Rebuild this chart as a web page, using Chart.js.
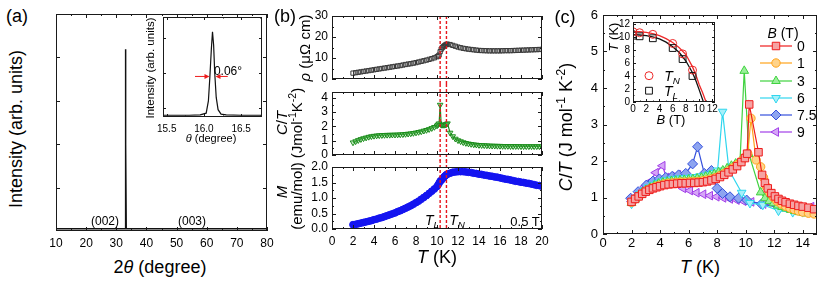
<!DOCTYPE html>
<html>
<head>
<meta charset="utf-8">
<script src="https://cdn.jsdelivr.net/npm/chart.js@4.4.1/dist/chart.umd.min.js"></script>
<style>
  body { margin: 0; background: #fff; }
  #fig { position: relative; width: 830px; height: 283px; overflow: hidden; background: #fff;
         font-family: "Liberation Sans", Arial, sans-serif; color: #000; }
  #fig canvas { position: absolute; z-index: 1; }
  .lab { position: absolute; z-index: 2; white-space: nowrap; line-height: 1; transform: translate(-50%, -50%); }
  .rot { transform: translate(-50%, -50%) rotate(-90deg); }
  .lab sub { font-size: 70%; vertical-align: -0.3em; line-height: 0; }
  .lab sup { font-size: 70%; vertical-align: 0.55em; line-height: 0; }
</style>
</head>
<body>
<div id="fig">
  <!-- panel a -->
  <div class="lab" style="left:17px;top:16px;font-size:18px">(a)</div>
  <div class="lab rot" style="left:16px;top:129px;font-size:18px">Intensity (arb. units)</div>
  <div class="lab" style="left:160px;top:267px;font-size:18px">2<i>θ</i> (degree)</div>
  <div class="lab" style="left:105px;top:221px;font-size:12px">(002)</div>
  <div class="lab" style="left:192px;top:221px;font-size:12px">(003)</div>
  <div class="lab rot" style="left:151px;top:68px;font-size:11.5px">Intensity (arb. units)</div>
  <div class="lab" style="left:211px;top:138px;font-size:11px"><i>θ</i> (degree)</div>
  <div class="lab" style="left:228px;top:71px;font-size:12px">0.06°</div>
  <!-- panel b -->
  <div class="lab" style="left:285px;top:16px;font-size:18px">(b)</div>
  <div class="lab rot" style="left:304px;top:48px;font-size:15px"><i>ρ</i> (μΩ cm)</div>
  <div class="lab rot" style="left:281px;top:123px;font-size:15px"><i>C</i>/<i>T</i></div>
  <div class="lab rot" style="left:296px;top:123px;font-size:15px">(Jmol<sup>-1</sup>K<sup>-2</sup>)</div>
  <div class="lab rot" style="left:281px;top:192px;font-size:15px"><i>M</i></div>
  <div class="lab rot" style="left:296px;top:196px;font-size:15px">(emu/mol)</div>
  <div class="lab" style="left:437px;top:257px;font-size:18px"><i>T</i> (K)</div>
  <div class="lab" style="left:432px;top:220px;font-size:14px"><i>T</i><sub><i>L</i></sub></div>
  <div class="lab" style="left:457px;top:220px;font-size:14px"><i>T</i><sub><i>N</i></sub></div>
  <div class="lab" style="left:525px;top:221px;font-size:13px">0.5 T</div>
  <!-- panel c -->
  <div class="lab" style="left:565px;top:17px;font-size:18px">(c)</div>
  <div class="lab rot" style="left:566px;top:127px;font-size:18px"><i>C</i>/<i>T</i> (J mol<sup>-1</sup> K<sup>-2</sup>)</div>
  <div class="lab" style="left:700px;top:267px;font-size:18px"><i>T</i> (K)</div>
  <div class="lab" style="left:783px;top:33px;font-size:14px"><i>B</i> (T)</div>
  <div class="lab rot" style="left:613px;top:37px;font-size:13px"><i>T</i> (K)</div>
  <div class="lab" style="left:671px;top:119px;font-size:13px"><i>B</i> (T)</div>
  <div class="lab" style="left:672px;top:76px;font-size:14px"><i>T</i><sub><i>N</i></sub></div>
  <div class="lab" style="left:671px;top:91px;font-size:14px"><i>T</i><sub><i>L</i></sub></div>
</div>
<script>
// ---- (a) XRD pattern + rocking curve inset ----
const xrdAngle = [10, 32.9, 33.0, 33.1, 33.2, 33.3, 80];
const xrdInt = [0.05, 0.05, 2.0, 4.19, 2.0, 0.05, 0.05];
const rockTheta = [15.45, 15.8, 15.95, 16.03, 16.06, 16.08, 16.10, 16.115, 16.13, 16.145, 16.165, 16.19, 16.23, 16.3, 16.5, 16.78];
const rockInt = [0.79, 0.79, 0.8, 0.85, 1.2, 1.9, 2.7, 3.18, 2.8, 2.0, 1.3, 0.95, 0.82, 0.8, 0.79, 0.79];
const arrowFrom = [15.88, 16.32];
const arrowTo = [16.075, 16.155];
const arrowY = 1.9;

// ---- (b) rho, C/T, M vs T at 0.5 T ----
const bTemp = [2, 2.25, 2.5, 2.75, 3, 3.25, 3.5, 3.75, 4, 4.25, 4.5, 4.75, 5, 5.25, 5.5, 5.75,
  6, 6.25, 6.5, 6.75, 7, 7.25, 7.5, 7.75, 8, 8.25, 8.5, 8.75, 9, 9.25, 9.5, 9.75, 10,
  10.1, 10.2, 10.3, 10.4, 10.5, 10.6, 10.7, 10.8, 10.9, 11.0,
  11.25, 11.5, 11.75, 12, 12.25, 12.5, 12.75, 13, 13.25, 13.5, 13.75, 14, 14.25, 14.5, 14.75, 15,
  15.25, 15.5, 15.75, 16, 16.25, 16.5, 16.75, 17, 17.25, 17.5, 17.75, 18, 18.25, 18.5, 18.75, 19,
  19.25, 19.5, 19.75, 20];
const bRho = [2.8, 3.0, 3.2, 3.4, 3.6, 3.8, 4.0, 4.2, 4.4, 4.6, 4.8, 5.0, 5.2, 5.4, 5.6, 5.8,
  6.0, 6.2, 6.4, 6.65, 6.9, 7.1, 7.3, 7.55, 7.8, 8.1, 8.4, 8.7, 9.0, 9.35, 9.7, 10.1, 10.6,
  10.9, 11.4, 13.0, 14.2, 14.9, 15.4, 15.8, 16.2, 16.5, 16.6,
  16.4, 16.0, 15.6, 15.2, 14.9, 14.6, 14.4, 14.2, 14.05, 13.9, 13.75, 13.6, 13.55, 13.5, 13.45, 13.4,
  13.4, 13.4, 13.4, 13.4, 13.45, 13.5, 13.5, 13.5, 13.55, 13.6, 13.65, 13.7, 13.75, 13.8, 13.85, 13.9,
  13.95, 14.0, 14.05, 14.1];
const bCT = [0.87, 0.95, 1.03, 1.1, 1.16, 1.21, 1.26, 1.3, 1.33, 1.35, 1.37, 1.38, 1.39, 1.4, 1.4, 1.41,
  1.41, 1.42, 1.43, 1.44, 1.46, 1.48, 1.5, 1.53, 1.56, 1.6, 1.64, 1.69, 1.74, 1.8, 1.87, 1.95, 2.05,
  2.12, 2.2, 3.5, 2.1, 2.1, 2.1, 2.1, 2.12, 2.15, 2.2,
  1.55, 1.3, 1.13, 1.02, 0.95, 0.88, 0.83, 0.79, 0.76, 0.73, 0.71, 0.69, 0.68, 0.67, 0.66, 0.65,
  0.64, 0.64, 0.63, 0.63, 0.62, 0.62, 0.62, 0.61, 0.61, 0.61, 0.61, 0.6, 0.6, 0.6, 0.6, 0.6,
  0.6, 0.6, 0.6, 0.6];
const bMag = [0.14, 0.15, 0.17, 0.19, 0.21, 0.23, 0.25, 0.27, 0.3, 0.32, 0.35, 0.37, 0.4, 0.43, 0.46, 0.49,
  0.52, 0.56, 0.59, 0.63, 0.67, 0.71, 0.75, 0.8, 0.85, 0.9, 0.96, 1.02, 1.08, 1.15, 1.22, 1.29, 1.37,
  1.42, 1.48, 1.54, 1.57, 1.61, 1.65, 1.69, 1.72, 1.75, 1.77,
  1.8, 1.83, 1.84, 1.85, 1.85, 1.85, 1.84, 1.83, 1.82, 1.8, 1.79, 1.77, 1.76, 1.74, 1.73, 1.71,
  1.7, 1.68, 1.67, 1.65, 1.63, 1.61, 1.6, 1.58, 1.56, 1.54, 1.53, 1.51, 1.5, 1.48, 1.47, 1.45,
  1.43, 1.41, 1.4, 1.38];
const bTrans = [10.3, 10.9];

// ---- (c) C/T vs T in fields ----
const fieldLabels = ['0', '1', '3', '6', '7.5', '9'];
const c0T = [2.0, 2.25, 2.5, 2.75, 3.0, 3.25, 3.5, 3.75, 4.0, 4.3, 4.6, 4.9, 5.2, 5.5, 5.8, 6.1, 6.4, 6.7, 7.0,
  7.3, 7.6, 7.9, 8.2, 8.5, 8.8, 9.1, 9.4, 9.7, 9.95, 10.1, 10.25, 10.9, 11.15, 11.35, 11.55, 11.8, 12.05, 12.3, 12.55,
  12.8, 13.1, 13.4, 13.7, 14.0, 14.4, 14.8];
const c0V = [0.88, 0.96, 1.03, 1.1, 1.16, 1.21, 1.25, 1.28, 1.31, 1.34, 1.36, 1.37, 1.38, 1.39, 1.39, 1.4, 1.4, 1.41, 1.42,
  1.44, 1.47, 1.51, 1.56, 1.62, 1.69, 1.77, 1.86, 1.97, 2.08, 2.2, 3.55, 2.24, 1.62, 1.4, 1.25, 1.12, 1.03, 0.96, 0.91,
  0.87, 0.83, 0.8, 0.77, 0.75, 0.72, 0.68];
const c1T = [2.0, 2.25, 2.5, 2.75, 3.0, 3.25, 3.5, 3.75, 4.0, 4.3, 4.6, 4.9, 5.2, 5.5, 5.8, 6.1, 6.4, 6.7, 7.0,
  7.3, 7.6, 7.9, 8.2, 8.5, 8.8, 9.1, 9.4, 9.7, 9.95, 10.15, 10.37, 10.73, 11.05, 11.25, 11.45, 11.7, 11.95, 12.2, 12.5,
  12.8, 13.1, 13.4, 13.7, 14.0, 14.4, 14.8];
const c1V = [0.87, 0.96, 1.04, 1.11, 1.18, 1.23, 1.27, 1.31, 1.34, 1.37, 1.39, 1.4, 1.41, 1.42, 1.42, 1.43, 1.43, 1.44, 1.46,
  1.48, 1.51, 1.55, 1.6, 1.66, 1.73, 1.81, 1.9, 2.0, 2.1, 2.2, 3.17, 2.03, 1.84, 1.55, 1.3, 1.12, 1.0, 0.9, 0.82,
  0.76, 0.71, 0.67, 0.63, 0.6, 0.57, 0.55];
const c3T = [2.0, 2.25, 2.5, 2.75, 3.0, 3.3, 3.6, 3.9, 4.2, 4.5, 4.8, 5.1, 5.4, 5.7, 6.0, 6.3, 6.6, 6.9, 7.2, 7.5,
  7.8, 8.1, 8.4, 8.7, 9.0, 9.3, 9.6, 9.9, 10.23, 11.05, 11.35, 11.65, 11.95, 12.25, 12.55, 12.85, 13.15, 13.45, 13.75,
  14.05, 14.4, 14.8];
const c3V = [0.85, 0.95, 1.05, 1.13, 1.2, 1.27, 1.33, 1.38, 1.41, 1.43, 1.45, 1.46, 1.47, 1.48, 1.49, 1.5, 1.52, 1.54, 1.57, 1.6,
  1.64, 1.69, 1.74, 1.8, 1.87, 1.93, 1.98, 4.47, 2.19, 1.14, 0.98, 0.9, 0.84, 0.78, 0.74, 0.7, 0.66, 0.63, 0.6,
  0.58, 0.56, 0.55];
const c6T = [2.0, 2.3, 2.6, 2.9, 3.2, 3.5, 3.8, 4.1, 4.4, 4.7, 5.0, 5.3, 5.6, 5.9, 6.2, 6.5, 6.8, 7.1, 7.4, 7.7,
  8.03, 8.38, 8.83, 9.72, 10.3, 11.2, 12.3, 13.3, 14.0, 14.6];
const c6V = [0.83, 0.97, 1.1, 1.2, 1.28, 1.35, 1.4, 1.44, 1.47, 1.49, 1.51, 1.52, 1.53, 1.54, 1.55, 1.56, 1.58, 1.6, 1.63, 1.67,
  1.74, 3.35, 1.75, 1.13, 0.85, 0.8, 0.64, 0.6, 0.6, 0.63];
const c75T = [1.94, 2.46, 3.04, 3.5, 3.95, 4.4, 4.85, 5.3, 5.8, 6.28, 6.63, 7.1, 7.6, 8.0, 8.38, 8.9, 9.5, 10.07,
  11.1, 12.4, 13.6, 14.6];
const c75V = [0.98, 1.16, 1.34, 1.45, 1.51, 1.55, 1.58, 1.62, 1.66, 1.92, 2.39, 1.66, 1.74, 1.25, 1.11, 1.02, 0.98, 0.93,
  0.82, 0.73, 0.7, 0.66];
const c9T = [2.0, 2.46, 2.93, 3.28, 3.7, 4.17, 4.45, 4.8, 5.27, 5.62, 6.1, 6.56, 7.03, 7.5, 7.96, 8.43, 8.9, 9.37, 9.84,
  10.4, 11.24, 12.2, 13.35, 14.6];
const c9V = [0.89, 1.07, 1.3, 1.43, 1.68, 1.87, 1.55, 1.58, 1.62, 1.25, 1.19, 1.13, 1.09, 1.05, 1.02, 0.99, 0.96, 0.93, 0.9,
  0.88, 0.82, 0.77, 0.73, 0.75];

// ---- (c) inset: phase diagram ----
const insB = [0, 1, 3, 6, 7.5, 9];
const insTN = [10.8, 10.65, 10.4, 9.0, 7.4, 4.9];
const insTL = [10.2, 10.1, 9.8, 8.3, 6.6, 4.0];
const fitNB = [0, 1, 2, 3, 4, 5, 6, 7, 8, 9, 9.5, 10, 10.5, 11.05];
const fitNT = [10.85, 10.8, 10.7, 10.5, 10.2, 9.75, 9.15, 8.35, 7.3, 5.4, 4.2, 2.7, 1.5, 0];
const fitLB = [0, 1, 2, 3, 4, 5, 6, 7, 8, 9, 9.5, 10, 10.65];
const fitLT = [10.35, 10.3, 10.2, 10.0, 9.7, 9.2, 8.5, 7.6, 6.3, 4.5, 3.3, 1.9, 0];

// tick values
const aTicks = [10, 20, 30, 40, 50, 60, 70, 80];
const aMinor = [15, 25, 35, 45, 55, 65, 75];
const aYTicks = [1, 2, 3, 4];
const rockTicks = [15.5, 16.0, 16.5];
const rockMinor = [15.75, 16.25, 16.75];
const rockYTicks = [1, 2, 3];
const bTTicks = [0, 2, 4, 6, 8, 10, 12, 14, 16, 18, 20];
const bTMinor = [1, 3, 5, 7, 9, 11, 13, 15, 17, 19];
const rhoTicks = [0, 10, 20, 30];
const rhoMinor = [5, 15, 25];
const ctTicks = [0, 1, 2, 3, 4];
const ctMinor = [0.5, 1.5, 2.5, 3.5];
const magTicks = [0, 0.5, 1.0, 1.5, 2.0];
const magMinor = [0.25, 0.75, 1.25, 1.75];
const cTTicks = [0, 2, 4, 6, 8, 10, 12, 14];
const cTMinor = [1, 3, 5, 7, 9, 11, 13];
const cYTicks = [0, 1, 2, 3, 4, 5, 6];
const cYMinor = [0.5, 1.5, 2.5, 3.5, 4.5, 5.5];
const insTicks = [0, 2, 4, 6, 8, 10, 12];
const insMinor = [1, 3, 5, 7, 9, 11];

Chart.defaults.font.family = '"Liberation Sans", Arial, sans-serif';
Chart.defaults.color = '#000';

const fig = document.getElementById('fig');
const pts = (xs, ys) => xs.map((x, i) => ({ x: x, y: ys[i] }));
const fix1 = v => Number(v).toFixed(1);

function drawMarker(ctx, ds, px, py) {
  ctx.save();
  ctx.fillStyle = ds.pointBackgroundColor;
  ctx.strokeStyle = ds.pointBorderColor;
  ctx.lineWidth = ds.pointBorderWidth || 1;
  Chart.helpers.drawPoint(ctx, { pointStyle: ds.pointStyle, rotation: ds.pointRotation || 0,
    radius: ds.pointRadius, borderWidth: ctx.lineWidth }, px, py);
  ctx.restore();
}

const frame = {
  id: 'frame',
  beforeDraw(chart, args, o) {
    if (!o.bg) return;
    const a = chart.chartArea, ctx = chart.ctx;
    ctx.save();
    ctx.fillStyle = '#fff';
    ctx.fillRect(a.left, a.top, a.right - a.left, a.bottom - a.top);
    ctx.restore();
  },
  afterDatasetsDraw(chart, args, o) {
    const ctx = chart.ctx, a = chart.chartArea;
    const x = chart.scales.x, y = chart.scales.y;
    ctx.save();
    if (o.vlines) {
      ctx.strokeStyle = '#e8141c';
      ctx.lineWidth = 1.4;
      ctx.setLineDash([3, 2]);
      o.vlines.forEach(v => {
        const px = x.getPixelForValue(v);
        ctx.beginPath();
        ctx.moveTo(px, o.vTop ? a.top : 0);
        ctx.lineTo(px, o.vBottom ? a.bottom : chart.height);
        ctx.stroke();
      });
      ctx.setLineDash([]);
    }
    if (o.arrows) {
      ctx.strokeStyle = '#ee1c1c';
      ctx.fillStyle = '#ee1c1c';
      ctx.lineWidth = 1;
      const py = y.getPixelForValue(arrowY);
      arrowFrom.forEach((f, i) => {
        const x0 = x.getPixelForValue(f), x1 = x.getPixelForValue(arrowTo[i]);
        const d = x1 > x0 ? 1 : -1;
        ctx.beginPath();
        ctx.moveTo(x0, py); ctx.lineTo(x1 - d * 4, py);
        ctx.stroke();
        ctx.beginPath();
        ctx.moveTo(x1, py); ctx.lineTo(x1 - d * 5, py - 2.5); ctx.lineTo(x1 - d * 5, py + 2.5);
        ctx.closePath();
        ctx.fill();
      });
    }
    // box and inward ticks on all four sides
    ctx.strokeStyle = '#1a1a1a';
    ctx.lineWidth = 1;
    ctx.strokeRect(a.left + 0.5, a.top + 0.5, a.right - a.left - 1, a.bottom - a.top - 1);
    const L = o.tick || 4;
    ctx.beginPath();
    const xt = (vals, len) => (vals || []).forEach(v => {
      const p = Math.round(x.getPixelForValue(v)) + 0.5;
      ctx.moveTo(p, a.bottom); ctx.lineTo(p, a.bottom - len);
      ctx.moveTo(p, a.top); ctx.lineTo(p, a.top + len);
    });
    const yt = (vals, len) => (vals || []).forEach(v => {
      const p = Math.round(y.getPixelForValue(v)) + 0.5;
      ctx.moveTo(a.left, p); ctx.lineTo(a.left + len, p);
      ctx.moveTo(a.right, p); ctx.lineTo(a.right - len, p);
    });
    xt(o.xMaj, L); xt(o.xMin, L / 2); yt(o.yMaj, L); yt(o.yMin, L / 2);
    ctx.stroke();
    // line+marker legend (panel c)
    if (o.legend) {
      const ds = chart.data.datasets;
      ctx.font = '14px "Liberation Sans", Arial, sans-serif';
      ctx.textBaseline = 'middle';
      o.legendY.forEach((ly, i) => {
        const d = ds[i], py = ly - o.oy;
        ctx.strokeStyle = d.borderColor;
        ctx.lineWidth = 1.2;
        ctx.beginPath();
        ctx.moveTo(o.legendX[0] - o.ox, py); ctx.lineTo(o.legendX[1] - o.ox, py);
        ctx.stroke();
        drawMarker(ctx, d, (o.legendX[0] + o.legendX[1]) / 2 - o.ox, py);
        ctx.fillStyle = '#000';
        ctx.fillText(d.label, o.legendX[2] - o.ox, py + 1);
      });
    }
    if (o.keys) {
      const ds = chart.data.datasets;
      o.keyDs.forEach((k, i) => drawMarker(ctx, ds[k], o.keyX - o.ox, o.keyY[i] - o.oy));
    }
    ctx.restore();
  }
};

function axis(a, size) {
  return {
    type: 'linear', min: a.min, max: a.max,
    grid: { display: false, drawTicks: false },
    border: { display: false },
    ticks: { display: !!a.labels, padding: a.pad || 0, font: { size: a.size || 12 }, color: '#000',
             autoSkip: false, maxRotation: 0, minRotation: 0,
             callback: a.fmt || (v => String(v)) },
    afterBuildTicks: s => { s.ticks = a.major.map(v => ({ value: v })); },
    afterFit: s => {
      if (s.isHorizontal()) s.height = size; else s.width = size;
      s.paddingLeft = s.paddingRight = s.paddingTop = s.paddingBottom = 0;
    }
  };
}

function plot(box, m, datasets, xs, ys, extra) {
  const cv = document.createElement('canvas');
  cv.width = box.w + m.l + m.r;
  cv.height = box.h + m.t + m.b;
  cv.style.left = (box.x - m.l) + 'px';
  cv.style.top = (box.y - m.t) + 'px';
  fig.appendChild(cv);
  const po = Object.assign({ xMaj: xs.major, xMin: xs.minor, yMaj: ys.major, yMin: ys.minor,
    ox: box.x - m.l, oy: box.y - m.t }, extra || {});
  return new Chart(cv, {
    type: 'scatter',
    data: { datasets },
    options: {
      responsive: false, animation: false, devicePixelRatio: 1,
      layout: { padding: { left: 0, top: m.t, right: m.r, bottom: 0 } },
      scales: { x: axis(xs, m.b), y: axis(ys, m.l) },
      plugins: { legend: { display: false }, tooltip: { enabled: false }, frame: po }
    },
    plugins: [frame]
  });
}

function lineSet(xs, ys, color, width) {
  return { data: pts(xs, ys), showLine: true, borderColor: color, borderWidth: width, pointRadius: 0, fill: false };
}
function markSet(label, xs, ys, style, rot, r, border, bg, line) {
  return { label, data: pts(xs, ys), showLine: !!line, borderColor: border, borderWidth: 1.2,
    pointStyle: style, pointRotation: rot, pointRadius: r, pointBorderColor: border,
    pointBackgroundColor: bg, pointBorderWidth: 1, pointHoverRadius: r };
}

// (a) main
plot({ x: 56, y: 14, w: 211, h: 217 }, { l: 10, r: 12, t: 6, b: 20 },
  [lineSet(xrdAngle, xrdInt, '#111', 1.5)],
  { min: 10, max: 80, major: aTicks, minor: aMinor, labels: true, pad: 5, size: 12 },
  { min: 0, max: 5, major: aYTicks, minor: [] }, { tick: 4 });
// (a) inset
plot({ x: 163, y: 17, w: 99, h: 100 }, { l: 10, r: 4, t: 2, b: 20 },
  [lineSet(rockTheta, rockInt, '#111', 1.2)],
  { min: 15.45, max: 16.78, major: rockTicks, minor: rockMinor, labels: true, pad: 6, size: 10, fmt: fix1 },
  { min: 0.74, max: 3.6, major: rockYTicks, minor: [] }, { tick: 3, bg: true, arrows: true });

// (b) three stacked panels sharing T axis
const bX = { min: 0, max: 20, major: bTTicks, minor: bTMinor };
plot({ x: 332, y: 16, w: 210, h: 63 }, { l: 30, r: 10, t: 12, b: 6 },
  [markSet('rho', bTemp, bRho, 'rect', 0, 3.0, '#3a3a3a', 'rgba(0,0,0,0)')],
  bX, { min: 0, max: 30, major: rhoTicks, minor: rhoMinor, labels: true, pad: 4, size: 12 },
  { tick: 4, vlines: bTrans, vTop: true });
plot({ x: 332, y: 92, w: 210, h: 63 }, { l: 30, r: 10, t: 8, b: 6 },
  [markSet('CT', bTemp, bCT, 'triangle', 180, 3.2, '#1a8c1a', 'rgba(120,210,120,0.35)', true)],
  bX, { min: 0, max: 4.4, major: ctTicks, minor: ctMinor, labels: true, pad: 4, size: 12 },
  { tick: 4, vlines: bTrans });
plot({ x: 332, y: 167, w: 210, h: 62 }, { l: 30, r: 10, t: 7, b: 22 },
  [markSet('M', bTemp, bMag, 'circle', 0, 3.4, '#1414f0', '#1414f0')],
  Object.assign({ labels: true, pad: 5, size: 12 }, bX),
  { min: 0, max: 2.0, major: magTicks, minor: magMinor, labels: true, pad: 4, size: 12, fmt: fix1 },
  { tick: 4, vlines: bTrans, vBottom: true });

// (c) main
plot({ x: 603, y: 15, w: 214, h: 219 }, { l: 40, r: 10, t: 8, b: 22 },
  [
    markSet(fieldLabels[0], c0T, c0V, 'rect', 0, 5.3, '#ee1c1c', '#f5a3a3', true),
    markSet(fieldLabels[1], c1T, c1V, 'circle', 0, 4.2, '#ffa31a', '#ffd38a', true),
    markSet(fieldLabels[2], c3T, c3V, 'triangle', 0, 5.0, '#3fd23f', '#9bef9b', true),
    markSet(fieldLabels[3], c6T, c6V, 'triangle', 180, 5.0, '#2fd6ee', '#a6f0fa', true),
    markSet(fieldLabels[4], c75T, c75V, 'rectRot', 0, 5.0, '#3550dc', '#8da4f0', true),
    markSet(fieldLabels[5], c9T, c9V, 'triangle', -90, 5.0, '#a13ee8', '#d6a6f7', true)
  ],
  { min: 0, max: 15, major: cTTicks, minor: cTMinor, labels: true, pad: 2, size: 13 },
  { min: 0, max: 6, major: cYTicks, minor: cYMinor, labels: true, pad: 5, size: 13 },
  { tick: 4, legend: true, legendX: [760, 792, 797], legendY: [46, 63, 81, 98, 115, 132] });

// (c) inset
plot({ x: 633, y: 22, w: 82, h: 80 }, { l: 16, r: 6, t: 6, b: 14 },
  [
    markSet('TN', insB, insTN, 'circle', 0, 4, '#ee2a2a', 'rgba(0,0,0,0)'),
    markSet('TL', insB, insTL, 'rect', 0, 4.8, '#111', 'rgba(0,0,0,0)'),
    lineSet(fitNB, fitNT, '#ee2a2a', 1.3),
    lineSet(fitLB, fitLT, '#111', 1.3)
  ],
  { min: 0, max: 12.4, major: insTicks, minor: insMinor, labels: true, pad: 1, size: 10 },
  { min: 0, max: 12.3, major: insTicks, minor: insMinor, labels: true, pad: 3, size: 10 },
  { tick: 3, bg: true, keys: true, keyDs: [0, 1], keyX: 649, keyY: [75.7, 90.7] });
</script>
</body>
</html>
